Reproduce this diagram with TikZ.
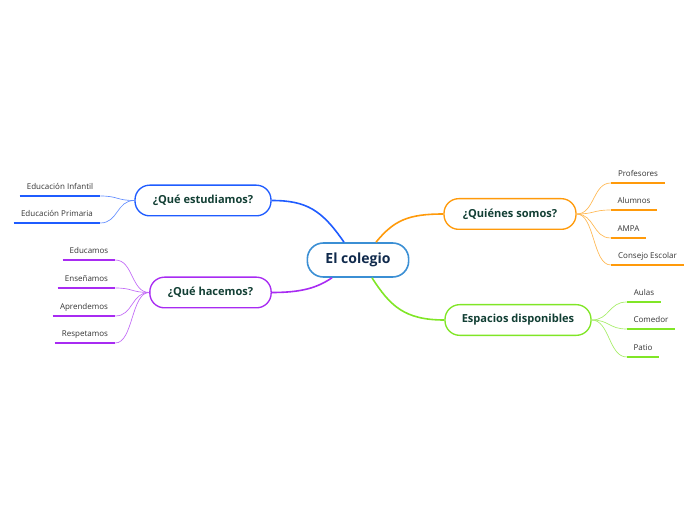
\documentclass[tikz,border=0pt]{standalone}
\usepackage{fontspec}
\setmainfont{Open Sans}
\usepackage{tikz}
\usetikzlibrary{positioning,calc}
\definecolor{cblue}{HTML}{1F5CFF}
\definecolor{cpurple}{HTML}{A82BF2}
\definecolor{corange}{HTML}{FF9A0A}
\definecolor{cgreen}{HTML}{80E626}
\definecolor{rootline}{HTML}{3B8FD4}
\definecolor{roottext}{HTML}{102A4C}
\definecolor{topictext}{HTML}{123F34}
\definecolor{subtext}{HTML}{333333}

\begin{document}
\begin{tikzpicture}[x=0.75pt, y=-0.75pt,
  root/.style={draw=rootline, line width=1.2pt, rounded corners=12pt, fill=white,
               minimum width=76pt, minimum height=25.5pt, font=\bfseries\fontsize{10.5}{12}\selectfont,
               text=roottext},
  topic/.style={draw=#1, line width=1pt, rounded corners=11pt, fill=white,
                minimum height=23pt, font=\bfseries\fontsize{8.3}{10}\selectfont, text=topictext},
  sub/.style={anchor=south, inner sep=0pt, text height=6pt, text depth=5pt,
              font=\fontsize{6}{7}\selectfont, text=subtext},
  branch/.style={draw=#1, line width=1.2pt},
  twig/.style={draw=#1!70!white, line width=0.5pt},
  under/.style={draw=#1, line width=1.8pt}]
\useasboundingbox (0,0) rectangle (696,520);

% central topic and main topics
\node[root] (colegio) at (358,260) {El colegio};
\node[topic=cblue, minimum width=102pt] (estudiamos) at (203,200.5) {¿Qué estudiamos?};
\node[topic=cpurple, minimum width=91pt] (hacemos) at (210.5,292.5) {¿Qué hacemos?};
\node[topic=corange, minimum width=99pt] (quienes) at (510,214) {¿Quiénes somos?};
\node[topic=cgreen, minimum width=109.5pt] (espacios) at (518,320) {Espacios disponibles};

% main branches
\draw[branch=cblue] ($(colegio.north)+(-14,0)$) .. controls +(-22,-32) and +(35,0) .. (estudiamos.east);
\draw[branch=cpurple] ($(colegio.south)+(-26,0)$) .. controls +(-15,10) and +(30,0) .. (hacemos.east);
\draw[branch=corange] ($(colegio.north)+(18,0)$) .. controls +(18,-22) and +(-35,0) .. (quienes.west);
\draw[branch=cgreen] ($(colegio.south)+(14,0)$) .. controls +(18,28) and +(-40,0) .. (espacios.west);

% subtopics
\node[sub, minimum width=60pt] (infantil) at (60,196) {Educación Infantil};
\node[sub, minimum width=64.5pt] (primaria) at (57,223) {Educación Primaria};
\node[sub, minimum width=39pt] (educamos) at (89,260) {Educamos};
\node[sub, minimum width=42.75pt] (ensenamos) at (86.5,288) {Enseñamos};
\node[sub, minimum width=46.5pt] (aprendemos) at (84,316) {Aprendemos};
\node[sub, minimum width=45pt] (respetamos) at (85,343) {Respetamos};
\node[sub, minimum width=40.5pt] (profesores) at (638,183) {Profesores};
\node[sub, minimum width=34.5pt] (alumnos) at (634,210) {Alumnos};
\node[sub, minimum width=26.25pt] (ampa) at (628.5,238) {AMPA};
\node[sub, minimum width=54.75pt] (consejo) at (647.5,265) {Consejo Escolar};
\node[sub, minimum width=25.5pt] (aulas) at (644,302) {Aulas};
\node[sub, minimum width=36pt] (comedor) at (651,329) {Comedor};
\node[sub, minimum width=24pt] (patio) at (643,357) {Patio};

% underlines
\foreach \n in {infantil, primaria}
  \draw[under=cblue] (\n.south west) -- (\n.south east);
\foreach \n in {educamos, ensenamos, aprendemos, respetamos}
  \draw[under=cpurple] (\n.south west) -- (\n.south east);
\foreach \n in {profesores, alumnos, ampa, consejo}
  \draw[under=corange] (\n.south west) -- (\n.south east);
\foreach \n in {aulas, comedor, patio}
  \draw[under=cgreen] (\n.south west) -- (\n.south east);

% twigs
\foreach \n in {infantil, primaria}
  \draw[twig=cblue] (estudiamos.west) .. controls +(-18,0) and +(18,0) .. (\n.south east);
\foreach \n in {educamos, ensenamos, aprendemos, respetamos}
  \draw[twig=cpurple] (hacemos.west) .. controls +(-18,0) and +(18,0) .. (\n.south east);
\foreach \n in {profesores, alumnos, ampa, consejo}
  \draw[twig=corange] (quienes.east) .. controls +(18,0) and +(-18,0) .. (\n.south west);
\foreach \n in {aulas, comedor, patio}
  \draw[twig=cgreen] (espacios.east) .. controls +(18,0) and +(-18,0) .. (\n.south west);
\end{tikzpicture}
\end{document}
